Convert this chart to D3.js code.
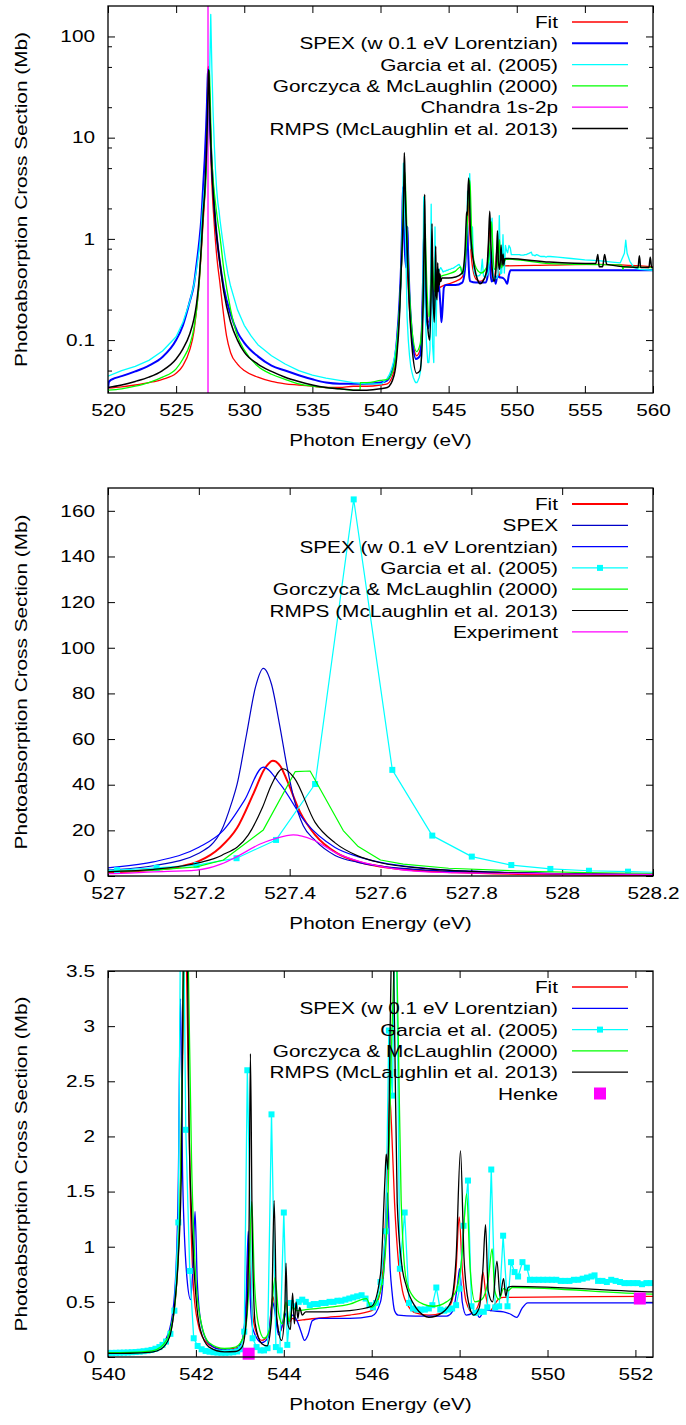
<!DOCTYPE html>
<html>
<head>
<meta charset="utf-8">
<script src="https://cdn.jsdelivr.net/npm/d3@7"></script>
<style>
  body { margin: 0; background: #fff; }
  svg text { font-family: "Liberation Sans", Arial, sans-serif; font-size: 16.5px; fill: #000; }
</style>
</head>
<body>
<svg id="chart" width="686" height="1425"></svg>
<script>
// glyphs in the reference are drawn wide, so text is stretched along its baseline
const SX = 1.26;
const left = 108, right = 653;

// ---- data: [photon energy (eV), cross section (Mb)] ----
const fitCurve = [[520,0.0335],[521,0.0345],[522,0.036],[523,0.038],[524,0.041],[525,0.047],[525.5,0.056],[526,0.08],[526.3,0.12],[526.5,0.2],[526.7,0.38],[526.85,0.75],[527,1.6],[527.06,2.1],[527.115,2.9],[527.16,4.2],[527.2,6.5],[527.247,12.5],[527.284,21],[527.32,36],[527.345,47],[527.363,50.5],[527.38,48],[527.394,42],[527.423,28],[527.456,18],[527.504,10],[527.555,6],[527.628,3.4],[527.7,2.2],[527.768,1.6],[527.85,1.1],[527.95,0.75],[528.05,0.55],[528.2,0.38],[528.4,0.22],[528.7,0.11],[529,0.075],[529.5,0.058],[530,0.05],[531,0.043],[532,0.039],[533,0.037],[534,0.036],[535,0.035],[536,0.034],[537,0.034],[538,0.035],[539,0.035],
  [540,0.036],[540.5,0.037],[541,0.05],[541.2,0.08],[541.4,0.2],[541.55,0.6],[541.65,1.6],[541.72,3.2],[541.76,4.0],[541.8,3.2],[541.87,1.5],[541.95,0.6],[542.05,0.3],[542.2,0.15],[542.4,0.09],[542.65,0.07],[542.9,0.08],[543.05,0.15],[543.15,0.5],[543.2,1.05],[543.25,0.6],[543.35,0.25],[543.5,0.15],[543.65,0.2],[543.75,0.55],[543.8,0.45],[543.9,0.22],[544,0.35],[544.05,0.5],[544.1,0.3],[544.2,0.35],[544.3,0.33],[544.5,0.34],[545,0.36],[545.5,0.38],[546,0.42],[546.2,0.6],[546.3,1.1],[546.38,2.0],[546.41,2.36],[546.45,2.1],[546.52,1.4],[546.6,0.9],[546.7,0.6],[546.85,0.45],[547,0.4],[547.3,0.38],[547.6,0.4],[547.8,0.48],[547.92,0.8],[547.99,1.27],[548.06,0.8],[548.15,0.5],[548.3,0.4],[548.45,0.5],[548.53,0.77],[548.6,0.55],[548.7,0.42],[548.8,0.48],[548.9,0.53],[549,0.54],[552.4,0.55],[556,0.56],[560,0.53]];

const spexLorCurve = [[520,0.033],[520.08,0.039],[520.5,0.042],[521,0.044],[522,0.049],[523,0.056],[524,0.068],[525,0.1],[525.5,0.14],[526,0.24],[526.3,0.35],[526.5,0.56],[526.7,0.95],[526.85,1.6],[527,3.6],[527.1,6.2],[527.2,12.6],[527.254,20],[527.3,33],[527.342,47.7],[527.38,40],[527.434,23.8],[527.5,12.5],[527.55,8.5],[527.6,6],[527.7,3.4],[527.8,2.1],[527.9,1.4],[528,1.0],[528.2,0.6],[528.5,0.33],[529,0.18],[529.5,0.12],[530,0.094],[531,0.069],[532,0.056],[533,0.05],[534,0.045],[535,0.041],[536,0.038],[537,0.037],[538,0.037],[539,0.037],
  [540,0.038],[540.5,0.04],[541,0.06],[541.2,0.1],[541.4,0.25],[541.52,0.6],[541.6,1.6],[541.65,3.25],[541.7,1.6],[541.8,0.7],[541.88,0.52],[541.94,0.9],[541.98,1.32],[542.03,0.7],[542.12,0.3],[542.3,0.12],[542.6,0.065],[542.9,0.07],[543.05,0.15],[543.14,0.5],[543.19,1.14],[543.24,0.5],[543.3,0.25],[543.5,0.13],[543.65,0.18],[543.74,0.5],[543.78,0.45],[543.88,0.2],[543.97,0.3],[544.02,0.4],[544.1,0.32],[544.2,0.38],[544.3,0.33],[544.4,0.22],[544.47,0.15],[544.55,0.2],[544.65,0.33],[544.8,0.35],[545.5,0.35],[546,0.37],[546.2,0.5],[546.3,0.95],[546.36,1.49],[546.42,0.8],[546.46,0.6],[546.52,0.42],[546.6,0.38],[547,0.37],[547.7,0.37],[547.85,0.42],[547.95,0.65],[548,0.8],[548.06,0.5],[548.15,0.38],[548.3,0.4],[548.36,0.42],[548.45,0.36],[548.58,0.43],[548.7,0.42],[549,0.41],[549.15,0.39],[549.3,0.36],[549.42,0.44],[549.55,0.49],[552.4,0.49],[560,0.49]];

const spexCurve = [[526.9,1.8],[527,2.6],[527.1,4.5],[527.2,10],[527.25,20],[527.272,31.9],[527.284,40],[527.305,62],[527.325,83],[527.342,91],[527.36,84],[527.378,66],[527.395,47],[527.408,35],[527.43,22],[527.455,15.8],[527.5,9],[527.55,6],[527.6,4.3],[527.7,2.6],[527.85,1.5],[528,1.0],[528.2,0.6],[528.3,0.5]];

const garciaCurve = [[520,0.044],[521,0.05],[522,0.055],[523,0.063],[524,0.078],[525,0.108],[525.5,0.15],[526,0.24],[526.3,0.35],[526.5,0.5],[526.7,0.8],[526.85,1.25],[526.935,1.9],[527.02,2.6],[527.107,3.6],[527.195,4.8],[527.283,7.8],[527.37,15.8],[527.456,40.3],[527.541,165],[527.626,46.5],[527.714,17.7],[527.801,8.5],[527.888,4.8],[527.974,3.1],[528.059,2.3],[528.145,1.9],[528.23,1.5],[528.4,1.0],[528.6,0.65],[528.8,0.45],[529,0.34],[529.5,0.2],[530,0.14],[530.5,0.11],[531,0.09],[532,0.07],[533,0.058],[534,0.05],[535,0.045],[536,0.042],[537,0.04],[538,0.038],[539,0.037],
  [540,0.037],[540.09,0.037],[540.18,0.038],[540.27,0.039],[540.36,0.04],[540.45,0.041],[540.54,0.043],[540.63,0.045],[540.72,0.048],[540.81,0.052],[540.9,0.057],[540.99,0.064],[541.08,0.075],[541.17,0.09],[541.24,0.11],[541.32,0.14],[541.42,0.21],[541.51,0.42],[541.6,1.22],[541.68,5.6],[541.77,2.06],[541.86,0.78],[541.95,0.17],[542.04,0.1],[542.13,0.07],[542.22,0.055],[542.31,0.048],[542.4,0.043],[542.49,0.04],[542.58,0.038],[542.67,0.038],[542.76,0.04],[542.85,0.043],[542.94,0.05],[543.02,0.07],[543.1,0.23],[543.17,2.6],[543.29,0.17],[543.38,0.09],[543.47,0.06],[543.55,0.06],[543.63,0.08],[543.72,2.2],[543.82,0.09],[543.91,0.06],[544,1.31],[544.08,0.11],[544.16,0.49],[544.25,0.46],[544.34,0.5],[544.42,0.52],[544.5,0.5],[544.59,0.47],[544.68,0.48],[544.77,0.48],[544.86,0.49],[544.95,0.49],[545.04,0.5],[545.13,0.5],[545.22,0.51],[545.31,0.51],[545.4,0.52],[545.49,0.53],[545.58,0.54],[545.67,0.55],[545.77,0.56],[545.86,0.53],[545.95,0.47],[546.03,0.45],[546.1,0.49],[546.2,0.68],[546.32,1.14],[546.39,2.96],[546.47,2.37],[546.55,4.4],[546.64,0.8],[546.75,1.31],[546.85,0.49],[546.94,0.44],[547.03,0.43],[547.12,0.43],[547.21,0.43],[547.3,0.44],[547.38,0.47],[547.47,0.63],[547.56,0.43],[547.65,0.42],[547.74,0.43],[547.83,0.44],[547.92,0.47],[548,0.62],[548.09,1.19],[548.19,1.6],[548.27,0.46],[548.36,0.4],[548.45,0.41],[548.55,0.41],[548.63,0.45],[548.72,1.7],[548.81,0.45],[548.9,0.46],[548.99,1.1],[549.09,0.46],[549.17,0.86],[549.25,0.77],[549.33,0.73],[549.43,0.86],[549.53,0.81],[549.6,0.7],[549.7,0.7],[549.8,0.7],[549.9,0.7],[550,0.7],[550.1,0.7],[550.2,0.7],[550.3,0.69],[550.4,0.69],[550.5,0.69],[550.6,0.7],[550.7,0.7],[550.8,0.71],[550.9,0.72],[551,0.73],[551.07,0.74],[551.15,0.69],[551.25,0.69],[551.35,0.68],[551.45,0.7],[551.55,0.69],[551.65,0.68],[551.75,0.67],[551.85,0.67],[551.95,0.67],[552.05,0.67],[552.15,0.66],[552.25,0.67],[552.35,0.67],[552.45,0.67],[553,0.66],[554,0.64],[555,0.62],[556,0.61],[557,0.59],[557.6,0.58],[557.9,0.72],[558,0.97],[558.1,0.72],[558.3,0.6],[558.6,0.52],[559,0.5],[560,0.49]];

const gorczycaCurve = [[520,0.032],[521,0.033],[522,0.035],[523,0.038],[524,0.043],[525,0.052],[525.5,0.065],[526,0.09],[526.3,0.13],[526.5,0.2],[526.7,0.38],[526.85,0.8],[527,1.9],[527.1,2.6],[527.195,4.0],[527.254,7.0],[527.342,20.2],[527.412,45.7],[527.445,46],[527.518,19.9],[527.551,12.9],[527.6,7.0],[527.65,5.2],[527.75,3.4],[527.9,2.2],[528.05,1.5],[528.2,1.1],[528.5,0.5],[529,0.2],[529.5,0.11],[530,0.08],[531,0.055],[532,0.046],[533,0.041],[534,0.037],[535,0.035],[536,0.034],[537,0.033],[538,0.032],[538.5,0.032],[538.52,0.038],[539,0.038],
  [540,0.04],[540.5,0.041],[541,0.055],[541.2,0.09],[541.4,0.22],[541.55,0.6],[541.65,1.6],[541.72,3.5],[541.78,4.6],[541.83,3.5],[541.9,1.8],[542,0.7],[542.1,0.35],[542.3,0.13],[542.65,0.077],[542.9,0.09],[543.1,0.2],[543.2,0.6],[543.27,1.41],[543.33,0.7],[543.42,0.3],[543.55,0.17],[543.68,0.25],[543.8,0.72],[543.88,0.4],[543.97,0.3],[544.05,0.5],[544.12,0.32],[544.2,0.45],[544.3,0.42],[544.5,0.43],[545,0.45],[545.5,0.48],[545.88,0.53],[545.99,0.45],[546.2,0.6],[546.35,1.2],[546.45,2.8],[546.55,3.8],[546.6,3.0],[546.67,1.42],[546.79,0.69],[546.94,0.55],[547.17,0.48],[547.4,0.46],[547.7,0.5],[547.9,0.58],[548.05,0.9],[548.16,1.48],[548.24,0.8],[548.35,0.5],[548.5,0.52],[548.65,0.7],[548.74,0.98],[548.8,0.6],[548.9,0.52],[549,0.62],[549.1,0.6],[549.2,0.63],[552.4,0.57],[557.7,0.55],[557.8,0.5],[557.85,0.53],[560,0.52]];

const rmpsCurve = [[520,0.034],[521,0.036],[522,0.039],[523,0.043],[524,0.05],[525,0.065],[525.5,0.082],[526,0.115],[526.3,0.16],[526.5,0.23],[526.7,0.42],[526.85,0.85],[527,1.9],[527.1,2.9],[527.2,5.8],[527.25,9],[527.309,18],[527.34,30],[527.36,40],[527.385,47],[527.41,43],[527.456,23.5],[527.5,14.5],[527.55,8.8],[527.6,5.8],[527.7,3.2],[527.8,2.0],[527.9,1.35],[528,1.0],[528.2,0.6],[528.5,0.3],[529,0.15],[529.5,0.1],[530,0.076],[531,0.058],[532,0.049],[533,0.043],[534,0.039],[535,0.036],[536,0.034],[537,0.033],[538,0.032],[539,0.032],
  [540,0.033],[540.5,0.034],[541,0.045],[541.2,0.07],[541.4,0.18],[541.52,0.49],[541.6,0.9],[541.67,1.7],[541.72,4.0],[541.75,7.1],[541.8,4.0],[541.84,2.22],[541.9,1.3],[542,0.55],[542.1,0.25],[542.3,0.09],[542.65,0.047],[542.9,0.05],[543.05,0.09],[543.15,0.35],[543.21,1.2],[543.24,2.75],[543.28,1.2],[543.35,0.3],[543.5,0.12],[543.62,0.1],[543.72,0.35],[543.78,1.42],[543.84,0.35],[543.95,0.15],[544.02,0.4],[544.05,0.85],[544.09,0.3],[544.15,0.25],[544.2,0.58],[544.24,0.3],[544.28,0.5],[544.32,0.35],[544.36,0.45],[544.42,0.38],[544.5,0.41],[545,0.41],[545.5,0.42],[546,0.46],[546.2,0.75],[546.3,1.6],[546.33,1.84],[546.37,1.7],[546.42,3.0],[546.47,4.0],[546.52,3.0],[546.58,1.4],[546.68,0.85],[546.79,0.64],[547,0.45],[547.17,0.38],[547.3,0.36],[547.6,0.4],[547.8,0.5],[547.92,0.9],[548.02,1.87],[548.1,0.9],[548.2,0.5],[548.32,0.38],[548.45,0.45],[548.53,0.8],[548.59,1.2],[548.65,0.6],[548.75,0.5],[548.85,0.87],[548.92,0.55],[549,0.71],[549.05,0.55],[549.1,0.63],[549.2,0.64],[552.4,0.59],[555.8,0.57],[555.95,0.7],[556.05,0.53],[556.3,0.53],[556.45,0.7],[556.6,0.56],[558.9,0.52],[559,0.68],[559.1,0.52],[559.7,0.52],[559.8,0.66],[559.9,0.52],[560,0.52]];

const experimentCurve = [[526.9,0.9],[527,1.0],[527.1,1.8],[527.195,2.6],[527.25,5.3],[527.284,8.5],[527.335,14],[527.37,16.5],[527.408,18],[527.452,15.8],[527.504,9.9],[527.555,6.3],[527.6,4.2],[527.702,1.8],[527.85,1.2],[528,0.9],[528.2,0.7],[528.3,0.6]];

const chandraLines = [527.34];
const henkePoints = [[543.2,0.03],[552.1,0.53]];

// axis ticks
const topXTicks = [520, 525, 530, 535, 540, 545, 550, 555, 560];
const topYTicks = [0.1, 1, 10, 100];
const topYMinor = [0.05, 0.08, 0.2, 0.5, 0.8, 2, 5, 8, 20, 50, 80];
const midXTicks = [527, 527.2, 527.4, 527.6, 527.8, 528, 528.2];
const midYTicks = [0, 20, 40, 60, 80, 100, 120, 140, 160];
const botXTicks = [540, 542, 544, 546, 548, 550, 552];
const botYTicks = [0, 0.5, 1, 1.5, 2, 2.5, 3, 3.5];

const svg = d3.select("#chart");
const fmt = d3.format("~g");

function txt(g, x, y, s, anchor, rot) {
  g.append("text")
    .attr("transform", `translate(${x},${y})${rot ? " rotate(-90)" : ""} scale(${SX},1)`)
    .attr("text-anchor", anchor)
    .text(s);
}

function drawPanel(p) {
  const x = d3.scaleLinear().domain(p.xDomain).range([left, right]);
  const y = (p.log ? d3.scaleLog() : d3.scaleLinear()).domain(p.yDomain).range([p.bottom, p.top]);
  const g = svg.append("g");

  g.append("clipPath").attr("id", "clip" + p.id)
    .append("rect").attr("x", left).attr("y", p.top)
    .attr("width", right - left).attr("height", p.bottom - p.top);

  // ticks on all four sides, pointing inward
  const axes = g.append("g").attr("color", "#000");
  axes.append("g").attr("transform", `translate(0,${p.bottom})`)
    .call(d3.axisBottom(x).tickValues(p.xTicks).tickFormat(fmt).tickSizeInner(-7).tickSizeOuter(0).tickPadding(11));
  axes.append("g").attr("transform", `translate(0,${p.top})`)
    .call(d3.axisTop(x).tickValues(p.xTicks).tickFormat("").tickSizeInner(-7).tickSizeOuter(0));
  axes.append("g").attr("transform", `translate(${left},0)`)
    .call(d3.axisLeft(y).tickValues(p.yTicks).tickFormat(fmt).tickSizeInner(-7).tickSizeOuter(0).tickPadding(13 / SX));
  axes.append("g").attr("transform", `translate(${right},0)`)
    .call(d3.axisRight(y).tickValues(p.yTicks).tickFormat("").tickSizeInner(-7).tickSizeOuter(0));
  if (p.yMinor) {
    axes.append("g").attr("transform", `translate(${left},0)`)
      .call(d3.axisLeft(y).tickValues(p.yMinor).tickFormat("").tickSizeInner(-4).tickSizeOuter(0));
    axes.append("g").attr("transform", `translate(${right},0)`)
      .call(d3.axisRight(y).tickValues(p.yMinor).tickFormat("").tickSizeInner(-4).tickSizeOuter(0));
  }
  axes.selectAll(".domain").remove();
  axes.selectAll(".tick line").attr("stroke-width", 1);
  axes.selectAll("text").attr("transform", `scale(${SX},1)`);

  // data
  const plot = g.append("g").attr("clip-path", `url(#clip${p.id})`);
  p.series.forEach(s => {
    if (s.vertical) {
      s.vertical.forEach(e => {
        plot.append("line")
          .attr("x1", x(e)).attr("x2", x(e))
          .attr("y1", y(p.yDomain[0])).attr("y2", y(p.yDomain[1]))
          .attr("stroke", s.color).attr("stroke-width", s.width);
      });
      return;
    }
    const line = d3.line()
      .x(d => x(d[0])).y(d => y(d[1]))
      .curve(s.linear ? d3.curveLinear : d3.curveMonotoneX);
    plot.append("path").datum(s.data)
      .attr("fill", "none").attr("stroke", s.color)
      .attr("stroke-width", s.width).attr("stroke-linejoin", "round")
      .attr("d", line);
    if (s.markers) {
      const ms = 6;
      plot.selectAll(null)
        .data(s.data.filter(d => d[0] >= p.xDomain[0] && d[0] <= p.xDomain[1]))
        .enter().append("rect")
        .attr("x", d => x(d[0]) - ms / 2).attr("y", d => y(d[1]) - ms / 2)
        .attr("width", ms).attr("height", ms).attr("fill", s.color);
    }
  });
  if (p.henke) {
    const hs = 12;
    g.selectAll(null).data(p.henke).enter().append("rect")
      .attr("x", d => x(d[0]) - hs / 2).attr("y", d => y(d[1]) - hs / 2)
      .attr("width", hs).attr("height", hs).attr("fill", "#ff00ff");
  }

  // frame
  g.append("rect").attr("x", left).attr("y", p.top)
    .attr("width", right - left).attr("height", p.bottom - p.top)
    .attr("fill", "none").attr("stroke", "#000").attr("stroke-width", 1.3);

  // axis titles
  txt(g, (left + right) / 2, p.bottom + 53, "Photon Energy (eV)", "middle");
  txt(g, 27, (p.top + p.bottom) / 2, "Photoabsorption Cross Section (Mb)", "middle", true);

  // legend
  const lg = g.append("g");
  p.legend.forEach((e, i) => {
    const ly = p.top + 16 + i * 21.3;
    txt(lg, 558, ly + 6, e.label, "end");
    if (e.henke) {
      lg.append("rect").attr("x", 594).attr("y", ly - 6).attr("width", 12).attr("height", 12).attr("fill", "#ff00ff");
      return;
    }
    lg.append("line").attr("x1", 572).attr("x2", 628).attr("y1", ly).attr("y2", ly)
      .attr("stroke", e.color).attr("stroke-width", e.width);
    if (e.markers) {
      lg.append("rect").attr("x", 597).attr("y", ly - 3).attr("width", 6).attr("height", 6).attr("fill", e.color);
    }
  });
}

// top panel: full range, log scale
const topSeries = [
  { label: "Fit", data: fitCurve, color: "#ff0000", width: 1.3 },
  { label: "SPEX (w 0.1 eV Lorentzian)", data: spexLorCurve, color: "#0000ff", width: 2 },
  { label: "Garcia et al. (2005)", data: garciaCurve, color: "#00ffff", width: 1.3, linear: true },
  { label: "Gorczyca & McLaughlin (2000)", data: gorczycaCurve, color: "#00ff00", width: 1.3 },
  { label: "Chandra 1s-2p", vertical: chandraLines, color: "#ff00ff", width: 1.3 },
  { label: "RMPS (McLaughlin et al. 2013)", data: rmpsCurve, color: "#000000", width: 1.5 }
];
drawPanel({
  id: 1, top: 6, bottom: 393, log: true,
  xDomain: [520, 560], yDomain: [0.03, 200],
  xTicks: topXTicks, yTicks: topYTicks, yMinor: topYMinor,
  series: topSeries, legend: topSeries
});

// middle panel: the 1s-2p line
const midSeries = [
  { label: "Fit", data: fitCurve, color: "#ff0000", width: 2 },
  { label: "SPEX", data: spexCurve, color: "#0000c8", width: 1.2 },
  { label: "SPEX (w 0.1 eV Lorentzian)", data: spexLorCurve, color: "#0000ff", width: 1.2 },
  { label: "Garcia et al. (2005)", data: garciaCurve, color: "#00ffff", width: 1.2, linear: true, markers: true },
  { label: "Gorczyca & McLaughlin (2000)", data: gorczycaCurve, color: "#00ff00", width: 1.2, linear: true },
  { label: "RMPS (McLaughlin et al. 2013)", data: rmpsCurve, color: "#000000", width: 1.2 },
  { label: "Experiment", data: experimentCurve, color: "#ff00ff", width: 1.2 }
];
drawPanel({
  id: 2, top: 488, bottom: 876, log: false,
  xDomain: [527, 528.2], yDomain: [0, 170],
  xTicks: midXTicks, yTicks: midYTicks,
  series: midSeries, legend: midSeries
});

// bottom panel: the edge region, linear scale
const botSeries = [
  { label: "Fit", data: fitCurve, color: "#ff0000", width: 1.3 },
  { label: "SPEX (w 0.1 eV Lorentzian)", data: spexLorCurve, color: "#0000ff", width: 1.3 },
  { label: "Garcia et al. (2005)", data: garciaCurve, color: "#00ffff", width: 1.3, linear: true, markers: true },
  { label: "Gorczyca & McLaughlin (2000)", data: gorczycaCurve, color: "#00ff00", width: 1.3 },
  { label: "RMPS (McLaughlin et al. 2013)", data: rmpsCurve, color: "#000000", width: 1.3 }
];
drawPanel({
  id: 3, top: 971, bottom: 1357, log: false,
  xDomain: [540, 552.4], yDomain: [0, 3.5],
  xTicks: botXTicks, yTicks: botYTicks,
  series: botSeries, henke: henkePoints,
  legend: botSeries.concat([{ label: "Henke", henke: true }])
});
</script>
</body>
</html>
